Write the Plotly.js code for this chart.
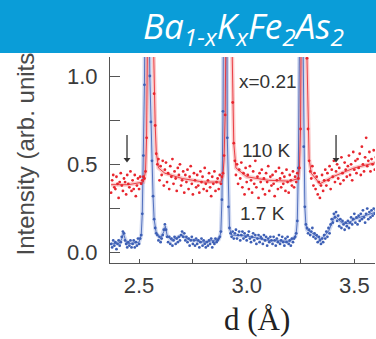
<!DOCTYPE html>
<html>
<head>
<meta charset="utf-8">
<script src="https://cdn.plot.ly/plotly-3.0.1.min.js"></script>
<style>
html,body{margin:0;padding:0;background:#fff;}
#chart{position:absolute;left:0;top:0;width:376px;height:339px;}
#banner{position:absolute;left:0;top:0;width:376px;height:53px;z-index:10;}
</style>
</head>
<body>
<div id="chart"></div>
<div id="banner"></div>
<script>
// d-spacing grid (Å)
var dGrid = [
2.370,2.375,2.380,2.385,2.390,2.395,2.400,2.405,2.410,2.415,
2.420,2.425,2.430,2.435,2.440,2.445,2.450,2.455,2.460,2.465,
2.470,2.475,2.480,2.485,2.490,2.495,2.500,2.505,2.510,2.515,
2.520,2.525,2.530,2.535,2.540,2.545,2.550,2.555,2.560,2.565,
2.570,2.575,2.580,2.585,2.590,2.595,2.600,2.605,2.610,2.615,
2.620,2.625,2.630,2.635,2.640,2.645,2.650,2.655,2.660,2.665,
2.670,2.675,2.680,2.685,2.690,2.695,2.700,2.705,2.710,2.715,
2.720,2.725,2.730,2.735,2.740,2.745,2.750,2.755,2.760,2.765,
2.770,2.775,2.780,2.785,2.790,2.795,2.800,2.805,2.810,2.815,
2.820,2.825,2.830,2.835,2.840,2.845,2.850,2.855,2.860,2.865,
2.870,2.875,2.880,2.885,2.890,2.895,2.900,2.905,2.910,2.915,
2.920,2.925,2.930,2.935,2.940,2.945,2.950,2.955,2.960,2.965,
2.970,2.975,2.980,2.985,2.990,2.995,3.000,3.005,3.010,3.015,
3.020,3.025,3.030,3.035,3.040,3.045,3.050,3.055,3.060,3.065,
3.070,3.075,3.080,3.085,3.090,3.095,3.100,3.105,3.110,3.115,
3.120,3.125,3.130,3.135,3.140,3.145,3.150,3.155,3.160,3.165,
3.170,3.175,3.180,3.185,3.190,3.195,3.200,3.205,3.210,3.215,
3.220,3.225,3.230,3.235,3.240,3.245,3.250,3.255,3.260,3.265,
3.270,3.275,3.280,3.285,3.290,3.295,3.300,3.305,3.310,3.315,
3.320,3.325,3.330,3.335,3.340,3.345,3.350,3.355,3.360,3.365,
3.370,3.375,3.380,3.385,3.390,3.395,3.400,3.405,3.410,3.415,
3.420,3.425,3.430,3.435,3.440,3.445,3.450,3.455,3.460,3.465,
3.470,3.475,3.480,3.485,3.490,3.495,3.500,3.505,3.510,3.515,
3.520,3.525,3.530,3.535,3.540,3.545,3.550,3.555,3.560,3.565,
3.570,3.575,3.580,3.585,3.590,3.595,3.600
];

// 110 K intensity (offset)
var int110K = [
0.34,0.41,0.44,0.37,0.36,0.43,0.39,0.31,0.40,0.45,
0.38,0.35,0.42,0.40,0.33,0.44,0.39,0.37,0.46,0.35,
0.41,0.36,0.44,0.32,0.38,0.42,0.36,0.43,0.39,0.41,
0.43,0.42,0.46,0.65,1.2,2.5,3.4,3.4,2.4,1.3,
0.9,0.72,0.56,0.50,0.53,0.41,0.49,0.44,0.52,0.38,
0.47,0.51,0.40,0.45,0.36,0.49,0.43,0.53,0.39,0.46,
0.42,0.35,0.48,0.44,0.50,0.38,0.41,0.46,0.34,0.44,
0.40,0.47,0.36,0.43,0.49,0.39,0.33,0.45,0.41,0.37,
0.44,0.38,0.34,0.46,0.40,0.43,0.36,0.48,0.39,0.35,
0.41,0.45,0.37,0.32,0.43,0.39,0.46,0.35,0.40,0.42,
0.36,0.44,0.39,0.43,0.45,0.55,0.78,1.4,2.5,3.4,
3.4,2.4,1.3,0.85,0.62,0.52,0.44,0.50,0.39,0.47,
0.42,0.51,0.37,0.45,0.33,0.48,0.40,0.44,0.36,0.49,
0.41,0.34,0.46,0.39,0.52,0.37,0.43,0.31,0.45,0.40,
0.47,0.36,0.42,0.33,0.45,0.40,0.49,0.35,0.43,0.38,
0.44,0.39,0.32,0.46,0.41,0.36,0.48,0.42,0.37,0.45,
0.39,0.43,0.35,0.47,0.40,0.34,0.44,0.41,0.38,0.46,
0.37,0.43,0.40,0.45,0.42,0.48,0.7,1.3,2.5,3.4,
3.1,2.0,1.1,0.7,0.52,0.46,0.42,0.49,0.38,0.45,
0.36,0.43,0.33,0.40,0.31,0.38,0.44,0.35,0.41,0.47,
0.38,0.45,0.41,0.49,0.36,0.47,0.43,0.52,0.40,0.46,
0.50,0.42,0.48,0.39,0.54,0.45,0.41,0.51,0.47,0.43,
0.49,0.55,0.44,0.50,0.41,0.57,0.47,0.52,0.45,0.53,
0.48,0.56,0.44,0.60,0.50,0.46,0.54,0.65,0.49,0.52,
0.57,0.46,0.53,0.50,0.58,0.47,0.54
];

// 1.7 K intensity
var int17K = [
0.05,0.03,0.07,0.04,0.06,0.02,0.05,0.07,0.04,0.06,
0.09,0.12,0.11,0.07,0.05,0.03,0.06,0.04,0.07,0.03,
0.05,0.07,0.03,0.06,0.04,0.08,0.05,0.08,0.10,0.22,
0.55,0.95,1.8,3.2,3.4,1.6,1.0,0.74,0.52,0.32,
0.19,0.14,0.11,0.10,0.07,0.09,0.06,0.08,0.10,0.13,
0.16,0.13,0.09,0.06,0.09,0.05,0.08,0.04,0.07,0.09,
0.05,0.08,0.06,0.09,0.07,0.10,0.12,0.09,0.11,0.07,
0.09,0.06,0.08,0.04,0.07,0.09,0.05,0.07,0.04,0.08,
0.05,0.07,0.03,0.06,0.08,0.04,0.07,0.05,0.03,0.06,
0.04,0.07,0.05,0.08,0.03,0.06,0.05,0.08,0.06,0.07,
0.08,0.09,0.12,0.30,0.80,2.0,3.4,2.1,0.65,0.26,
0.14,0.11,0.09,0.12,0.08,0.11,0.13,0.08,0.10,0.12,
0.07,0.10,0.12,0.08,0.11,0.09,0.07,0.10,0.12,0.08,
0.06,0.09,0.11,0.07,0.10,0.05,0.08,0.10,0.06,0.09,
0.08,0.05,0.10,0.07,0.09,0.04,0.08,0.06,0.09,0.07,
0.05,0.09,0.07,0.04,0.08,0.06,0.10,0.05,0.07,0.09,
0.06,0.04,0.08,0.06,0.09,0.05,0.07,0.04,0.08,0.06,
0.08,0.09,0.11,0.18,0.48,1.2,3.0,3.1,1.4,0.60,
0.26,0.16,0.14,0.11,0.13,0.10,0.12,0.14,0.09,0.11,
0.08,0.10,0.06,0.09,0.07,0.05,0.08,0.06,0.10,0.08,
0.12,0.09,0.14,0.11,0.16,0.19,0.17,0.22,0.20,0.23,
0.18,0.21,0.15,0.19,0.14,0.18,0.16,0.13,0.17,0.15,
0.18,0.14,0.17,0.20,0.16,0.19,0.22,0.17,0.20,0.16,
0.21,0.18,0.22,0.19,0.24,0.20,0.17,0.22,0.25,0.19,
0.23,0.20,0.24,0.21,0.25,0.22,0.24
];

// fitted curves
var fitD110K = [2.37,2.45,2.52,2.53,2.535,2.54,2.545,2.55,2.555,2.56,2.565,2.57,2.575,2.58,2.59,2.62,2.70,2.80,2.88,2.89,2.895,2.90,2.905,2.91,2.915,2.92,2.925,2.93,2.935,2.94,2.95,3.00,3.10,3.20,3.24,3.245,3.25,3.255,3.26,3.265,3.27,3.275,3.28,3.285,3.29,3.30,3.34,3.40,3.50,3.60];
var fitI110K = [0.385,0.385,0.40,0.46,0.65,1.2,2.5,3.4,3.4,2.4,1.3,0.9,0.72,0.57,0.48,0.45,0.42,0.40,0.40,0.44,0.53,0.78,1.4,2.5,3.4,3.4,2.4,1.3,0.85,0.62,0.48,0.43,0.41,0.405,0.42,0.48,0.7,1.3,2.5,3.4,3.1,2.0,1.1,0.7,0.53,0.45,0.39,0.43,0.48,0.51];
var fitD17K = [2.37,2.41,2.42,2.427,2.435,2.445,2.50,2.505,2.51,2.515,2.52,2.525,2.53,2.535,2.54,2.545,2.55,2.555,2.56,2.565,2.57,2.575,2.58,2.60,2.615,2.622,2.63,2.65,2.70,2.72,2.80,2.87,2.875,2.88,2.885,2.89,2.895,2.90,2.905,2.91,2.915,2.92,2.93,3.00,3.10,3.20,3.225,3.23,3.235,3.24,3.245,3.25,3.255,3.26,3.265,3.27,3.275,3.28,3.30,3.345,3.38,3.41,3.44,3.47,3.50,3.55,3.60];
var fitI17K = [0.05,0.055,0.08,0.11,0.08,0.05,0.06,0.075,0.10,0.22,0.55,0.95,1.8,3.2,3.4,1.6,1.0,0.74,0.52,0.32,0.19,0.14,0.11,0.08,0.12,0.15,0.10,0.07,0.10,0.08,0.06,0.075,0.09,0.12,0.30,0.80,2.0,3.4,2.1,0.65,0.26,0.14,0.10,0.095,0.07,0.065,0.09,0.11,0.18,0.48,1.2,3.0,3.1,1.4,0.60,0.26,0.16,0.13,0.115,0.075,0.12,0.21,0.17,0.165,0.19,0.21,0.23];

// arrows marking extra reflections
var arrowD = [2.444, 3.415];
var arrowTopI = 0.666;
var arrowTipI = 0.515;

var labels = [
  {text:'x=0.21', d:3.101, i:0.969},
  {text:'110 K', d:3.093, i:0.581},
  {text:'1.7 K', d:3.074, i:0.223}
];

var RED = '#e8262e', BLUE = '#3d5fb5';
var traces = [
  {x:fitD17K, y:fitI17K, mode:'lines', line:{color:'rgba(120,145,215,0.35)', width:4}, hoverinfo:'skip'},
  {x:fitD110K, y:fitI110K, mode:'lines', line:{color:'rgba(240,110,110,0.35)', width:4}, hoverinfo:'skip'},
  {x:fitD17K, y:fitI17K, mode:'lines', line:{color:BLUE, width:1}, opacity:0.85, hoverinfo:'skip'},
  {x:fitD110K, y:fitI110K, mode:'lines', line:{color:RED, width:1}, opacity:0.85, hoverinfo:'skip'},
  {x:dGrid, y:int17K, mode:'markers', marker:{color:BLUE, size:2.8}, name:'1.7 K'},
  {x:dGrid, y:int110K, mode:'markers', marker:{color:RED, size:2.8}, name:'110 K'}
];
arrowD.forEach(function(d){
  traces.push({x:[d,d], y:[arrowTopI, arrowTipI+0.02], mode:'lines', line:{color:'#333', width:1.3}, hoverinfo:'skip'});
  traces.push({x:[d], y:[arrowTipI+0.012], mode:'markers', marker:{symbol:'triangle-down', size:6, color:'#333'}, hoverinfo:'skip'});
});

var axCol = '#555';
var tickFont = {family:'Liberation Sans, Arial, sans-serif', size:22, color:'#3a3a3a'};
var ann = [];
labels.forEach(function(l){
  ann.push({x:l.d, y:l.i, xref:'x', yref:'y', text:l.text, showarrow:false,
    font:{family:'Liberation Sans, Arial, sans-serif', size:19, color:'#333'}});
});
ann.push({xref:'paper', yref:'paper', x:-0.317, y:0.029, xanchor:'center', yanchor:'bottom',
  text:'Intensity (arb. units)', textangle:-90, showarrow:false,
  font:{family:'Liberation Sans, Arial, sans-serif', size:24, color:'#4a4a4a'}});
ann.push({xref:'paper', yref:'paper', x:0.5547, y:-0.272, xanchor:'center', yanchor:'middle',
  text:'d (Å)', showarrow:false,
  font:{family:'Liberation Serif, Times New Roman, serif', size:31, color:'#222'}});

var xr = [2.365, 3.596], yr = [-0.058, 1.1075];
function minorX(len){ return {tick0:2.5, dtick:0.25, ticks:'inside', ticklen:len, tickwidth:1, tickcolor:axCol, showgrid:false}; }
function minorY(len){ return {tick0:0, dtick:0.25, ticks:'inside', ticklen:len, tickwidth:1, tickcolor:axCol, showgrid:false}; }

var layout = {
  width:376, height:339,
  margin:{l:110, r:1, t:57, b:76, pad:0},
  paper_bgcolor:'#fff', plot_bgcolor:'#fff', showlegend:false,
  xaxis:{range:xr, tickmode:'linear', tick0:2.5, dtick:0.5, tickformat:'.1f', ticks:'inside', ticklen:4,
    tickwidth:1, tickcolor:axCol, minor:minorX(4), showline:true, linecolor:axCol, linewidth:1, showgrid:false,
    zeroline:false, tickfont:tickFont, ticklabelstandoff:3},
  xaxis2:{range:xr, overlaying:'x', side:'top', anchor:'y', tickmode:'linear', tick0:2.5, dtick:0.5,
    ticks:'inside', ticklen:10, tickwidth:1, tickcolor:axCol, minor:minorX(10), showticklabels:false,
    showline:true, linecolor:axCol, linewidth:1, showgrid:false, zeroline:false},
  yaxis:{range:yr, tickmode:'linear', tick0:0, dtick:0.5, tickformat:'.1f', ticks:'inside', ticklen:10,
    tickwidth:1, tickcolor:axCol, minor:minorY(10), showline:true, linecolor:axCol, linewidth:1, showgrid:false,
    zeroline:false, tickfont:tickFont, ticklabelstandoff:7},
  yaxis2:{range:yr, overlaying:'y', side:'right', anchor:'x', tickmode:'linear', tick0:0, dtick:0.5,
    ticks:'inside', ticklen:5, tickwidth:1, tickcolor:axCol, minor:minorY(5), showticklabels:false,
    showline:true, linecolor:axCol, linewidth:1, showgrid:false, zeroline:false},
  annotations:ann
};
Plotly.newPlot('chart', traces, layout, {staticPlot:true, displayModeBar:false});

// Banner with compound formula
var bannerTitle = '<i>Ba<sub>1-x</sub>K<sub>x</sub>Fe<sub>2</sub>As<sub>2</sub></i>';
Plotly.newPlot('banner', [], {
  width:376, height:53, margin:{l:0,r:0,t:0,b:0},
  paper_bgcolor:'#0a9dd8', plot_bgcolor:'#0a9dd8',
  xaxis:{visible:false}, yaxis:{visible:false},
  annotations:[{xref:'paper', yref:'paper', x:0.92, y:0.49, xanchor:'right', yanchor:'middle',
    text:bannerTitle, showarrow:false,
    font:{family:'Open Sans, sans-serif', size:35, color:'#ffffff'}}]
}, {staticPlot:true, displayModeBar:false});
</script>
</body>
</html>
